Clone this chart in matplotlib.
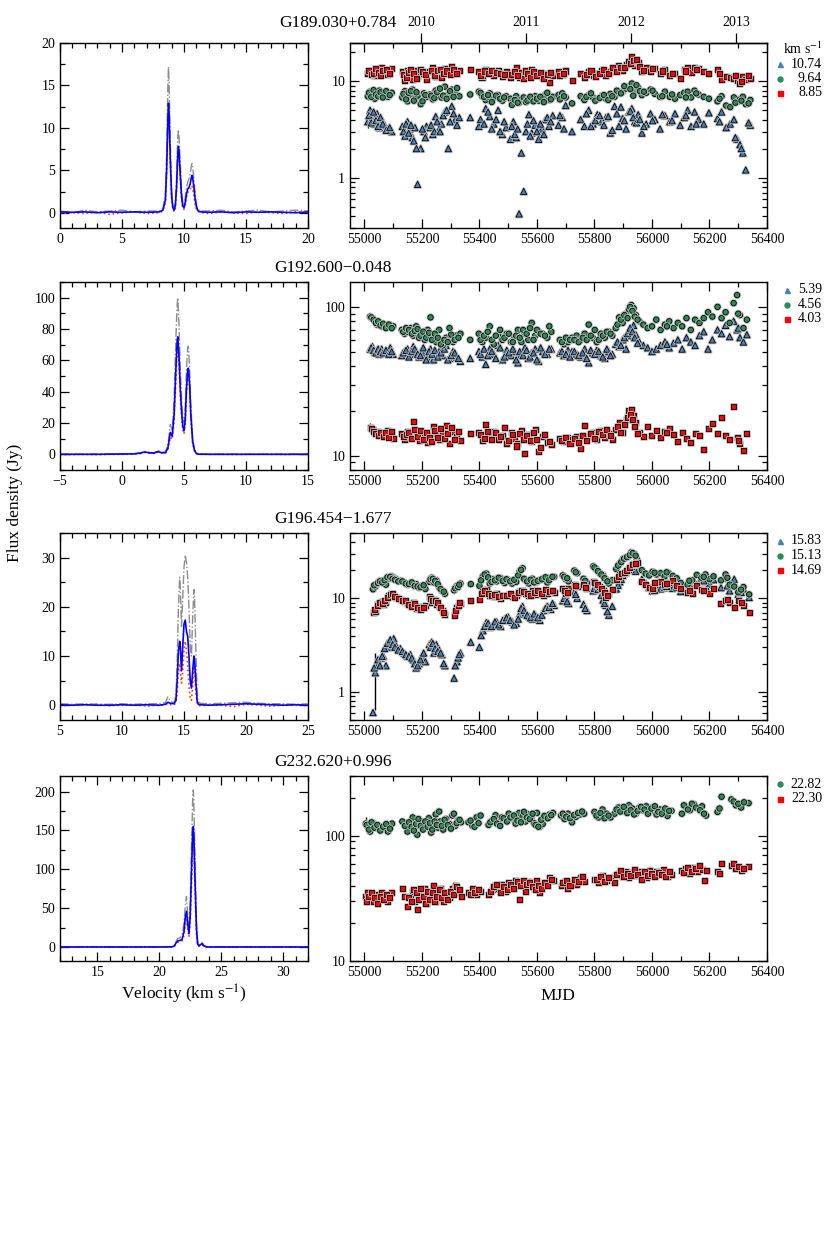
import numpy as np
import matplotlib
matplotlib.use('Agg')
import matplotlib.pyplot as plt
import matplotlib.patheffects as pe
from matplotlib.ticker import MultipleLocator, LogLocator, NullFormatter, FixedLocator, FixedFormatter
from matplotlib.lines import Line2D

plt.rcParams['font.family'] = ['Liberation Serif', 'DejaVu Serif']
plt.rcParams['mathtext.fontset'] = 'stix'
plt.rcParams['axes.linewidth'] = 1.0
for a in ('xtick', 'ytick'):
    plt.rcParams[a + '.direction'] = 'in'
    plt.rcParams[a + '.major.size'] = 6.5
    plt.rcParams[a + '.minor.size'] = 3.5
    plt.rcParams[a + '.major.width'] = 0.9
    plt.rcParams[a + '.minor.width'] = 0.9
    plt.rcParams[a + '.labelsize'] = 10
plt.rcParams['xtick.top'] = True
plt.rcParams['ytick.right'] = True

# ---------------- spectra (velocity km/s, flux Jy) ----------------
g189_vel = [0, 1, 2, 3, 4, 5, 6, 7, 8,
            8.3, 8.5, 8.6, 8.7, 8.75, 8.8, 8.9, 9.0, 9.1, 9.2,
            9.3, 9.4, 9.5, 9.55, 9.6, 9.7, 9.8, 9.9, 10.0, 10.1,
            10.2, 10.3, 10.4, 10.5, 10.6, 10.65, 10.7, 10.8, 10.9, 11.0,
            11.1, 11.2, 11.4,
            12, 13, 14, 15, 16, 17, 18, 19, 20]
g189_mean = [0.1, 0.05, 0.1, 0.0, 0.1, 0.05, 0.1, 0.05, 0.1,
             0.3, 1.5, 5.0, 11.0, 12.9, 11.5, 6.0, 2.0, 0.6, 0.3,
             0.8, 3.0, 7.0, 7.8, 7.2, 4.5, 2.0, 0.8, 0.6, 1.2,
             2.2, 2.8, 3.0, 3.4, 4.2, 4.4, 4.1, 3.0, 1.6, 0.7,
             0.3, 0.15, 0.1,
             0.05, 0.1, 0.0, 0.1, 0.05, 0.1, 0.05, 0.0, 0.1]
g189_max = [0.2, 0.0, 0.3, 0.1, 0.2, 0.3, 0.1, 0.2, 0.2,
            0.5, 2.2, 7.0, 15.0, 17.2, 15.0, 8.0, 2.6, 0.9, 0.6,
            1.2, 4.0, 9.0, 9.8, 9.0, 5.8, 2.6, 1.2, 1.0, 1.8,
            3.0, 3.6, 4.0, 4.6, 5.6, 5.8, 5.4, 4.0, 2.2, 1.0,
            0.5, 0.3, 0.2,
            0.2, 0.3, 0.1, 0.2, 0.3, 0.1, 0.2, 0.3, 0.2]
g189_min = [-0.1, 0.0, -0.1, 0.1, -0.2, 0.0, 0.1, -0.1, 0.0,
            0.2, 1.2, 4.5, 10.5, 12.3, 11.0, 5.5, 1.8, 0.4, 0.1,
            0.5, 2.6, 6.6, 7.4, 6.8, 4.0, 1.6, 0.5, 0.4, 0.9,
            1.8, 2.4, 2.6, 2.8, 3.0, 3.2, 2.8, 2.0, 1.0, 0.4,
            0.2, 0.1, 0.0,
            -0.1, 0.1, 0.0, -0.1, 0.1, 0.0, -0.1, 0.1, 0.0]

g192_vel = [-5, -4, -3, -2, -1, 0, 1,
            1.5, 1.8, 2.2, 2.6, 2.9, 3.2, 3.5,
            3.7, 3.9, 4.05, 4.2, 4.35, 4.45, 4.5, 4.6, 4.7, 4.8,
            4.9, 5.0, 5.1, 5.2, 5.3, 5.35, 5.45, 5.55, 5.7, 5.85,
            6.0, 6.2,
            7, 8, 9, 10, 11, 12, 13, 14, 15]
g192_mean = [0, 0, 0, 0, 0.1, 0.2, 0.3,
             0.8, 1.5, 1.0, 0.8, 1.8, 1.0, 1.0,
             4.0, 14.0, 11.5, 25.0, 55.0, 73.0, 75.0, 62.0, 42.0, 28.0,
             18.0, 15.0, 22.0, 42.0, 54.0, 55.0, 45.0, 25.0, 8.0, 2.5,
             0.5, 0.1,
             0, 0, 0, 0, 0, 0, 0, 0, 0]
g192_max = [0.2, 0.2, 0.2, 0.2, 0.2, 0.3, 0.5,
            1.0, 1.8, 1.2, 1.0, 2.5, 1.3, 1.5,
            6.0, 19.0, 15.0, 35.0, 75.0, 96.0, 100.0, 82.0, 55.0, 35.0,
            24.0, 20.0, 30.0, 55.0, 68.0, 69.0, 56.0, 32.0, 10.0, 3.0,
            0.8, 0.3,
            0.2, 0.2, 0.2, 0.2, 0.2, 0.2, 0.2, 0.2, 0.2]
g192_min = [-0.2, -0.1, 0, -0.2, 0, 0, 0.1,
            0.5, 1.2, 0.8, 0.6, 1.4, 0.8, 0.7,
            3.0, 11.0, 9.5, 21.0, 48.0, 66.0, 68.0, 57.0, 38.0, 25.0,
            16.0, 13.0, 19.0, 39.0, 51.0, 53.0, 43.0, 24.0, 7.0, 2.0,
            0.3, 0.0,
            0, 0.1, -0.1, 0, 0.1, 0, -0.1, 0, 0.1]

g196_vel = [5, 6, 7, 8, 9, 10, 11, 12, 13,
            13.5, 13.7, 13.9, 14.2, 14.35, 14.45, 14.55, 14.65, 14.7, 14.8,
            14.9, 15.0, 15.1, 15.2, 15.3, 15.4, 15.5, 15.6, 15.7, 15.8,
            15.85, 15.95, 16.05, 16.15, 16.3,
            17, 18, 19, 20, 21, 22, 23, 24, 25]
g196_mean = [0.1, 0, 0.1, 0, 0, 0.1, 0, 0.1, 0,
             0.2, 0.6, 0.4, 0.3, 1.0, 5.0, 11.0, 13.0, 12.0, 7.0,
             12.0, 16.5, 17.3, 15.0, 14.0, 10.0, 5.0, 3.5, 7.0, 10.0,
             9.5, 5.0, 1.0, 0.2, 0.1,
             0, 0.1, 0.2, 0.3, 0.2, 0.1, 0, 0.1, 0]
g196_max = [0.3, 0.2, 0.3, 0.2, 0.2, 0.3, 0.2, 0.3, 0.3,
            0.5, 1.7, 0.8, 0.5, 2.0, 9.0, 20.0, 26.0, 24.0, 16.0,
            22.0, 28.0, 30.5, 29.0, 26.0, 20.0, 12.0, 10.0, 18.0, 23.5,
            22.0, 12.0, 3.0, 0.8, 0.4,
            0.3, 0.4, 0.5, 0.6, 0.4, 0.3, 0.3, 0.2, 0.3]
g196_min = [-0.1, 0, 0.1, 0.2, -0.1, 0, 0.1, -0.2, 0,
            0.1, 0.3, 0.1, 0.1, 0.5, 2.5, 7.0, 8.5, 7.0, 4.5,
            7.0, 11.0, 13.0, 11.0, 8.0, 4.0, 1.5, 1.0, 4.0, 8.0,
            7.0, 3.0, 0.4, 0.0, -0.1,
            0.1, 0, -0.3, 0.2, 0, -0.2, 0.1, 0, -0.1]

g232_vel = [12, 13, 14, 15, 16, 17, 18, 19, 20, 21,
            21.2, 21.35, 21.5, 21.7, 21.85, 22.0, 22.1, 22.2, 22.3, 22.4,
            22.5, 22.6, 22.7, 22.75, 22.8, 22.9, 23.0, 23.1, 23.2, 23.3,
            23.45, 23.6, 23.8, 24,
            25, 26, 27, 28, 29, 30, 31, 32]
g232_mean = [0, 0, 0, 0, 0, 0, 0, 0, 0, 0.2,
             1.0, 5.0, 8.0, 8.5, 10.0, 20.0, 38.0, 46.0, 30.0, 17.0,
             40.0, 95.0, 148.0, 155.0, 140.0, 80.0, 25.0, 4.0, 1.5, 2.5,
             4.5, 1.5, 0.2, 0,
             0, 0, 0, 0, 0, 0, 0, 0]
g232_max = [0.3, 0.2, 0.3, 0.2, 0.3, 0.2, 0.3, 0.2, 0.3, 0.5,
            1.5, 7.0, 11.0, 12.0, 16.0, 30.0, 52.0, 65.0, 42.0, 22.0,
            55.0, 125.0, 190.0, 202.0, 180.0, 105.0, 35.0, 6.0, 2.0, 3.5,
            6.0, 2.0, 0.5, 0.3,
            0.2, 0.3, 0.2, 0.3, 0.2, 0.3, 0.2, 0.3]
g232_min = [0, -0.2, 0, 0.1, -0.1, 0, 0.2, -0.1, 0, 0,
            0.5, 3.5, 6.0, 6.5, 8.0, 15.0, 28.0, 35.0, 24.0, 13.0,
            32.0, 78.0, 125.0, 132.0, 120.0, 65.0, 18.0, 2.5, 1.0, 1.5,
            3.0, 1.0, 0.0, 0.1,
            0, 0.1, -0.1, 0, 0.2, 0, 0.1, -0.1]

# ---------------- light curves (MJD, flux Jy) ----------------
g189_labels = ['10.74', '9.64', '8.85']
g189_mjd = [55012, 55020, 55028, 55036, 55044, 55052, 55060, 55070, 55082, 55095,
            55132, 55141, 55150, 55158, 55167, 55176, 55185, 55196, 55207, 55216,
            55228, 55238, 55248, 55258, 55268, 55280, 55292, 55304, 55316, 55330,
            55368, 55398, 55410, 55422, 55436, 55450, 55465, 55480, 55493, 55508,
            55518, 55528, 55538, 55546, 55554, 55562, 55572, 55582, 55594, 55606,
            55618, 55630, 55642, 55655, 55675, 55688, 55700, 55722, 55752, 55765,
            55780, 55795, 55810, 55825, 55840, 55855, 55870, 55885, 55898, 55910,
            55920, 55930, 55940, 55952, 55965, 55980, 55995, 56010, 56028, 56045,
            56062, 56080, 56098, 56112, 56124, 56136, 56148, 56162, 56180, 56198,
            56228, 56242, 56258, 56272, 56285, 56296, 56306, 56316, 56326, 56342,
            55016, 55024, 55032, 55040, 55048, 55056, 55064, 55076, 55088, 55136,
            55145, 55154, 55162, 55172, 55181, 55202, 55212, 55232, 55243, 55253,
            55263, 55274, 55286, 55298, 55310, 55322, 55404, 55416, 55430, 55443,
            55458, 55472, 55486, 55513, 55523, 55533, 55567, 55577, 55588, 55600,
            55612, 55624, 55636, 55648, 55680, 55694, 55772, 55788, 55803, 55818,
            55833, 55848, 55862, 55878, 55892, 55904, 55925, 55935, 55946, 55958,
            55972, 56002, 56036, 56070, 56118, 56154, 56235, 56290, 56311, 56336]
g189_f1 = [3.8, 5.0, 4.2, 3.6, 4.6, 3.3, 4.0, 3.5, 3.2, 3.0,
           3.4, 2.7, 3.8, 3.2, 2.6, 3.3, 0.85, 2.0, 3.0, 3.4,
           3.3, 2.8, 4.3, 3.1, 3.6, 4.8, 2.0, 5.5, 4.0, 4.2,
           4.2, 3.4, 11.0, 5.2, 4.3, 3.6, 5.0, 2.8, 3.3, 2.5,
           3.8, 2.6, 0.42, 1.8, 0.72, 3.0, 4.5, 2.9, 3.5, 2.5,
           3.2, 4.0, 3.4, 4.4, 3.5, 4.2, 5.6, 3.0, 4.0, 3.4,
           5.0, 3.6, 4.5, 3.8, 4.2, 2.9, 5.5, 3.4, 4.1, 3.2,
           4.8, 5.2, 3.8, 4.5, 2.9, 3.6, 4.6, 4.0, 3.2, 4.4,
           3.8, 4.6, 3.5, 4.2, 5.0, 3.4, 4.8, 4.0, 3.6, 4.7,
           4.1, 4.8, 3.3, 3.6, 4.0, 2.5, 2.2, 1.8, 1.2, 3.5,
           4.4, 3.7, 4.8, 3.9, 3.4, 4.2, 3.6, 3.1, 3.3, 3.0,
           3.6, 2.9, 3.5, 2.4, 2.0, 3.2, 2.6, 3.5, 3.0, 3.8,
           3.0, 4.4, 5.0, 3.8, 4.6, 3.5, 4.0, 3.6, 4.8, 3.2,
           4.0, 3.0, 3.8, 3.4, 2.8, 3.2, 3.6, 2.7, 3.9, 3.0,
           3.6, 2.8, 4.2, 3.8, 4.4, 3.2, 4.6, 3.4, 3.9, 4.4,
           3.5, 4.3, 3.1, 4.6, 5.4, 3.9, 4.9, 4.2, 3.7, 4.0,
           3.4, 3.9, 4.5, 3.9, 4.4, 3.6, 3.8, 2.6, 2.0, 3.7]
g189_f2 = [7.0, 7.8, 7.2, 6.6, 7.5, 8.0, 7.1, 7.4, 6.9, 7.6,
           6.8, 7.9, 6.2, 7.3, 8.2, 6.6, 7.1, 5.8, 7.5, 6.9,
           7.3, 6.5, 8.0, 7.0, 6.8, 8.8, 7.4, 8.2, 7.6, 7.0,
           7.3, 7.8, 7.0, 6.4, 7.5, 6.8, 7.2, 6.3, 7.0, 6.6,
           6.2, 7.0, 6.0, 6.5, 6.8, 6.1, 6.7, 6.4, 7.0, 6.3,
           6.6, 7.3, 6.4, 6.9, 7.2, 7.5, 6.8, 5.9, 7.0, 6.4,
           7.2, 6.8, 6.5, 7.0, 6.6, 7.4, 6.9, 7.6, 7.8, 8.4,
           8.8, 9.5, 8.0, 8.6, 7.2, 7.6, 8.2, 7.4, 6.9, 7.8,
           6.9, 6.6, 7.2, 7.6, 7.8, 6.8, 8.0, 7.3, 6.9, 6.6,
           6.2, 7.0, 5.6, 5.4, 6.8, 6.1, 6.5, 6.9, 5.8, 6.4,
           7.6, 6.9, 8.1, 7.3, 7.0, 7.7, 6.8, 7.9, 7.2, 7.4,
           6.5, 7.6, 7.9, 6.3, 7.7, 6.2, 7.2, 7.1, 6.7, 7.7,
           8.4, 7.1, 6.6, 7.9, 6.9, 8.5, 7.6, 6.9, 7.2, 6.1,
           7.1, 6.6, 6.8, 5.7, 6.4, 6.0, 6.3, 6.9, 6.2, 6.6,
           6.9, 6.1, 7.6, 6.5, 6.5, 7.0, 6.9, 7.5, 6.3, 6.7,
           7.2, 6.4, 7.0, 8.0, 7.5, 8.9, 8.3, 7.1, 9.1, 7.9,
           7.8, 8.0, 7.0, 7.3, 6.8, 7.5, 6.6, 6.0, 6.3, 5.9]
g189_f3 = [12.0, 13.0, 12.5, 11.5, 13.2, 12.0, 13.8, 12.6, 11.8, 13.5,
           12.6, 10.2, 13.0, 11.4, 10.4, 12.8, 11.2, 13.3, 12.0, 10.4,
           12.5, 13.8, 11.2, 12.4, 11.0, 13.6, 12.2, 14.2, 12.6, 13.0,
           13.4, 12.6, 11.6, 13.4, 12.0, 11.4, 13.0, 11.2, 12.6, 11.0,
           12.0, 13.8, 11.0, 12.4, 10.6, 12.8, 11.4, 13.2, 11.6, 12.0,
           11.0, 12.2, 9.8, 11.4, 12.6, 11.8, 12.8, 10.2, 12.0, 11.0,
           12.6, 11.4, 12.2, 13.0, 11.6, 12.6, 13.6, 14.6, 13.0, 15.0,
           16.0, 18.0, 14.6, 15.6, 12.8, 14.0, 12.5, 13.6, 12.2, 13.2,
           11.6, 12.2, 10.8, 13.2, 14.0, 12.4, 13.8, 13.6, 12.6, 12.2,
           13.4, 10.4, 11.2, 11.0, 10.6, 10.2, 9.6, 11.2, 10.4, 10.8,
           13.0, 11.8, 12.2, 13.6, 12.4, 11.4, 12.9, 13.3, 12.2, 11.8,
           11.0, 12.4, 13.4, 12.0, 10.8, 12.6, 11.8, 13.0, 11.6, 12.9,
           13.4, 12.0, 12.8, 11.8, 13.2, 12.2, 11.4, 12.8, 12.2, 13.0,
           12.4, 12.0, 11.8, 11.8, 12.6, 11.6, 12.2, 11.0, 12.6, 11.4,
           12.4, 10.8, 11.8, 12.4, 11.6, 12.2, 11.8, 12.8, 11.2, 12.0,
           13.2, 12.2, 13.8, 12.6, 14.0, 13.8, 15.2, 16.6, 17.0, 14.2,
           13.0, 13.6, 12.8, 12.0, 12.8, 13.4, 12.0, 11.6, 10.0, 11.6]
g189_err = [0.5, 0.6, 1.0]

g192_labels = ['5.39', '4.56', '4.03']
g192_mjd = [55020, 55028, 55036, 55044, 55052, 55060, 55070, 55080, 55090, 55100,
            55130, 55140, 55150, 55160, 55170, 55180, 55190, 55200, 55210, 55220,
            55230, 55240, 55250, 55260, 55272, 55284, 55296, 55308, 55320, 55334,
            55368, 55398, 55410, 55422, 55436, 55450, 55465, 55480, 55495, 55510,
            55522, 55534, 55546, 55558, 55570, 55582, 55594, 55606, 55620, 55636,
            55650, 55680, 55694, 55708, 55722, 55738, 55752, 55766, 55780, 55794,
            55808, 55822, 55836, 55850, 55862, 55874, 55886, 55898, 55910, 55920,
            55928, 55936, 55944, 55956, 55970, 55985, 56000, 56015, 56030, 56045,
            56060, 56075, 56090, 56105, 56120, 56135, 56150, 56165, 56180, 56195,
            56210, 56228, 56242, 56256, 56270, 56284, 56296, 56306, 56318, 56330,
            55024, 55032, 55040, 55048, 55056, 55065, 55075, 55085, 55095, 55135,
            55145, 55155, 55165, 55175, 55185, 55195, 55205, 55215, 55225, 55235,
            55245, 55255, 55266, 55278, 55290, 55302, 55314, 55327, 55404, 55416,
            55429, 55443, 55457, 55472, 55487, 55502, 55516, 55528, 55540, 55552,
            55564, 55576, 55588, 55600, 55613, 55628, 55643, 55687, 55701, 55715,
            55730, 55745, 55759, 55773, 55787, 55801, 55815, 55829, 55843, 55856,
            55880, 55892, 55904, 55915, 55924, 55932, 55940, 55950, 56052, 56300]
g192_f1 = [52, 54, 50, 51, 48, 52, 50, 50, 53, 48,
           47, 50, 52, 48, 54, 50, 46, 51, 49, 45,
           52, 44, 48, 50, 47, 55, 45, 50, 46, 43,
           45, 50, 46, 41, 52, 48, 55, 44, 51, 47,
           50, 42, 48, 53, 45, 49, 52, 43, 50, 48,
           52, 49, 47, 51, 50, 48, 46, 52, 42, 49,
           51, 47, 45, 50, 48, 56, 54, 60, 52, 64,
           70, 75, 65, 58, 55, 53, 50, 52, 55, 58,
           53, 57, 60, 52, 62, 58, 55, 64, 68, 52,
           60, 70, 66, 75, 63, 80, 70, 62, 58, 65,
           53, 51, 49, 52, 50, 49, 51, 48, 50, 49,
           51, 46, 50, 52, 48, 47, 53, 44, 50, 48,
           51, 46, 49, 52, 44, 47, 49, 45, 48, 52,
           47, 50, 45, 53, 46, 49, 52, 44, 50, 47,
           51, 46, 49, 44, 53, 48, 52, 50, 48, 46,
           50, 47, 49, 45, 51, 48, 50, 46, 52, 47,
           58, 55, 62, 66, 72, 68, 62, 57, 56, 72]
g192_f2 = [86, 84, 80, 76, 78, 74, 76, 73, 75, 74,
           70, 66, 68, 72, 64, 74, 62, 66, 60, 70,
           85, 64, 58, 70, 55, 62, 72, 58, 64, 66,
           60, 66, 58, 62, 74, 56, 65, 60, 66, 58,
           63, 70, 58, 66, 60, 78, 64, 68, 66, 62,
           68, 60, 56, 58, 62, 64, 60, 66, 76, 62,
           58, 66, 62, 68, 64, 72, 85, 78, 90, 96,
           103, 98, 88, 80, 76, 72, 74, 82, 70, 76,
           80, 72, 78, 74, 84, 70, 82, 78, 84, 92,
           86, 100, 84, 92, 78, 106, 120, 88, 72, 82,
           85, 82, 78, 80, 75, 77, 72, 76, 72, 68,
           72, 70, 66, 69, 71, 64, 68, 62, 67, 60,
           66, 62, 56, 60, 58, 65, 60, 62, 60, 64,
           68, 60, 64, 70, 62, 66, 58, 64, 62, 70,
           66, 72, 60, 70, 66, 64, 74, 58, 62, 60,
           60, 58, 62, 60, 64, 70, 60, 64, 68, 66,
           76, 82, 88, 84, 100, 94, 86, 82, 74, 90]
g192_f3 = [15.5, 15.0, 14.2, 14.6, 13.8, 14.4, 13.5, 14.8, 13.8, 13.0,
           14.0, 12.8, 14.6, 13.2, 17.0, 14.2, 12.6, 13.6, 14.4, 12.2,
           13.6, 15.6, 14.0, 12.8, 14.4, 16.0, 12.0, 14.6, 13.4, 12.6,
           14.0, 14.4, 12.6, 16.2, 13.2, 14.6, 12.8, 13.6, 12.0, 14.4,
           13.0, 12.0, 14.8, 10.4, 13.8, 12.4, 15.0, 10.6, 13.4, 12.2,
           11.8, 13.0, 12.4, 13.2, 12.8, 13.4, 11.2, 16.0, 13.4, 14.4,
           12.8, 14.8, 13.2, 14.0, 12.8, 15.0, 16.8, 14.2, 17.5, 20.0,
           20.5, 18.6, 16.6, 14.2, 13.4, 15.8, 13.6, 14.8, 13.2, 14.6,
           15.2, 13.8, 12.4, 14.4, 13.0, 12.2, 14.0, 13.6, 11.0, 15.2,
           16.4, 14.0, 18.0, 13.6, 12.8, 21.5, 13.2, 12.0, 10.8, 14.0,
           15.2, 14.6, 14.0, 13.6, 14.2, 13.4, 14.4, 13.2, 14.6, 13.4,
           13.8, 14.4, 13.0, 15.0, 13.4, 14.8, 12.8, 14.2, 13.2, 12.4,
           14.8, 13.2, 15.2, 13.0, 14.0, 15.4, 12.8, 14.6, 13.8, 13.0,
           14.6, 12.8, 14.2, 13.4, 15.4, 12.6, 13.8, 11.6, 14.0, 12.8,
           13.6, 12.6, 14.2, 12.8, 11.4, 13.8, 12.4, 12.6, 13.2, 12.0,
           13.0, 12.2, 13.6, 12.6, 14.0, 13.0, 14.6, 13.8, 15.0, 13.6,
           15.6, 14.4, 16.2, 18.0, 19.0, 17.4, 15.6, 14.0, 14.2, 12.6]
g192_err = [3.0, 4.0, 1.0]

g196_labels = ['15.83', '15.13', '14.69']
g196_mjd = [55030, 55038, 55044, 55050, 55058, 55066, 55075, 55085, 55094, 55102,
            55110, 55125, 55138, 55150, 55160, 55170, 55180, 55190, 55200, 55212,
            55226, 55234, 55242, 55250, 55260, 55270, 55280, 55312, 55322, 55334,
            55370, 55400, 55412, 55424, 55436, 55448, 55460, 55474, 55488, 55500,
            55514, 55528, 55540, 55550, 55560, 55572, 55584, 55596, 55610, 55624,
            55636, 55648, 55660, 55690, 55700, 55710, 55730, 55740, 55762, 55774,
            55796, 55806, 55818, 55830, 55840, 55850, 55862, 55876, 55888, 55898,
            55908, 55918, 55928, 55938, 55948, 55965, 55978, 55990, 56002, 56016,
            56030, 56044, 56058, 56072, 56086, 56100, 56124, 56140, 56156, 56172,
            56186, 56200, 56214, 56240, 56256, 56270, 56286, 56300, 56318, 56338,
            55034, 55047, 55054, 55062, 55070, 55080, 55090, 55098, 55106, 55118,
            55132, 55144, 55155, 55165, 55175, 55185, 55195, 55206, 55230, 55238,
            55246, 55255, 55265, 55276, 55316, 55326, 55330, 55406, 55418, 55430,
            55442, 55454, 55467, 55481, 55494, 55507, 55521, 55535, 55545, 55555,
            55566, 55578, 55590, 55603, 55617, 55630, 55642, 55654, 55695, 55705,
            55735, 55768, 55800, 55812, 55824, 55835, 55845, 55882, 55893, 55903,
            55913, 55923, 55933, 55943, 56009, 56051, 56130, 56180, 56262, 56310]
g196_f1 = [0.6, 1.6, 1.9, 2.0, 2.3, 2.4, 1.9, 3.0, 3.5, 3.7,
           3.1, 2.9, 2.6, 2.4, 2.5, 2.2, 1.8, 2.0, 2.4, 2.1,
           3.2, 3.4, 2.6, 3.2, 2.8, 2.5, 1.9, 1.4, 2.1, 2.6,
           3.4, 3.0, 4.5, 5.5, 4.9, 5.2, 5.6, 5.0, 6.0, 6.3,
           5.6, 5.4, 6.8, 8.2, 7.0, 6.4, 6.0, 6.5, 5.8, 7.4,
           8.2, 7.6, 8.4, 9.4, 10.8, 8.8, 11.8, 10.0, 8.6, 7.4,
           12.0, 13.6, 12.4, 9.6, 8.4, 6.6, 8.2, 12.6, 15.0, 17.5,
           19.0, 21.0, 23.0, 20.0, 22.0, 16.0, 14.5, 13.0, 12.0, 14.0,
           12.6, 13.0, 14.5, 12.8, 13.2, 11.8, 12.5, 11.6, 14.0, 16.5,
           15.2, 14.2, 15.8, 13.0, 16.5, 12.0, 16.0, 11.0, 12.6, 10.2,
           1.8, 2.2, 1.9, 2.4, 2.9, 3.3, 3.6, 3.2, 3.0, 2.8,
           2.7, 2.5, 2.4, 2.3, 2.0, 1.9, 2.2, 2.6, 3.0, 3.3,
           2.9, 2.7, 2.6, 2.0, 1.9, 2.3, 2.5, 4.0, 5.0, 5.4,
           5.0, 5.6, 5.2, 5.8, 6.2, 5.8, 5.2, 6.0, 7.8, 7.4,
           6.6, 6.2, 6.8, 6.2, 6.6, 7.8, 8.0, 8.8, 10.0, 9.2,
           11.0, 7.8, 12.8, 12.4, 10.8, 8.8, 7.2, 13.8, 16.0, 18.5,
           20.0, 22.0, 21.0, 19.5, 12.2, 13.4, 14.2, 15.4, 13.6, 11.6]
g196_f2 = [12.5, 13.4, 14.2, 15.0, 15.4, 14.6, 14.0, 16.4, 17.2, 16.6,
           16.0, 15.4, 14.8, 14.0, 14.6, 13.8, 14.2, 13.0, 13.6, 12.6,
           15.0, 16.6, 14.8, 15.6, 13.2, 12.0, 11.2, 12.2, 13.6, 14.4,
           14.2, 13.6, 17.2, 18.4, 14.4, 16.0, 15.2, 16.4, 14.6, 15.8,
           14.4, 15.0, 19.4, 21.0, 15.6, 14.4, 16.2, 14.8, 15.6, 16.4,
           14.8, 16.6, 17.0, 17.6, 16.0, 15.2, 19.8, 18.6, 16.2, 14.6,
           22.0, 20.6, 18.6, 17.6, 16.0, 14.4, 15.6, 20.6, 23.4, 26.0,
           27.0, 28.0, 31.0, 30.0, 26.0, 20.0, 18.4, 17.6, 19.2, 18.0,
           18.6, 17.2, 18.6, 17.4, 16.4, 14.6, 14.0, 15.6, 17.8, 16.6,
           18.0, 16.0, 17.2, 15.6, 18.0, 14.0, 13.4, 11.6, 13.2, 11.0,
           13.8, 14.6, 15.2, 14.8, 15.6, 16.8, 17.0, 16.2, 15.8, 15.2,
           15.2, 14.4, 14.2, 14.8, 13.6, 13.4, 13.2, 13.8, 16.0, 16.2,
           15.4, 14.2, 12.6, 11.8, 12.8, 13.2, 14.0, 15.6, 18.0, 16.8,
           15.0, 15.6, 16.6, 15.4, 16.0, 15.2, 15.8, 17.6, 20.2, 16.2,
           15.2, 15.8, 14.8, 15.4, 16.0, 16.8, 15.6, 17.0, 17.0, 16.4,
           19.0, 15.4, 21.4, 19.6, 18.0, 16.4, 15.2, 22.4, 24.4, 26.6,
           27.6, 29.0, 30.5, 28.6, 18.8, 19.0, 15.4, 17.0, 16.6, 12.4]
g196_f3 = [7.0, 7.2, 8.6, 8.8, 9.2, 8.6, 9.0, 10.6, 11.2, 10.8,
           10.2, 9.8, 9.2, 8.8, 8.4, 9.0, 7.8, 8.2, 7.8, 8.4,
           10.4, 9.0, 9.8, 8.6, 8.2, 7.4, 6.8, 6.6, 8.0, 8.8,
           9.4, 9.8, 11.8, 12.4, 10.8, 10.4, 11.2, 10.0, 10.8, 11.0,
           10.4, 10.6, 11.8, 12.0, 11.2, 10.6, 12.0, 11.0, 11.6, 10.8,
           11.4, 12.0, 11.6, 12.6, 11.2, 12.8, 14.0, 13.4, 14.2, 12.6,
           15.2, 14.2, 13.4, 12.2, 10.2, 11.4, 12.4, 16.0, 18.0, 17.6,
           19.0, 20.4, 22.0, 23.0, 24.0, 15.2, 14.0, 13.2, 12.6, 14.6,
           15.0, 14.2, 14.8, 15.4, 13.6, 12.6, 11.6, 11.2, 13.6, 12.4,
           12.0, 11.4, 12.6, 8.8, 9.6, 9.0, 8.0, 9.4, 8.4, 7.0,
           7.6, 8.4, 9.0, 8.8, 9.4, 10.2, 11.0, 11.4, 10.4, 10.0,
           9.6, 9.4, 8.6, 8.2, 8.8, 8.0, 7.6, 8.0, 10.0, 9.4,
           9.4, 9.0, 8.0, 7.0, 7.4, 8.4, 9.0, 11.4, 12.0, 11.2,
           10.6, 11.0, 10.4, 10.8, 10.6, 11.2, 10.2, 11.6, 12.2, 11.8,
           11.4, 10.8, 11.6, 12.2, 11.2, 12.4, 11.8, 12.0, 12.2, 11.6,
           13.6, 13.0, 14.6, 14.0, 12.8, 11.6, 10.6, 17.0, 18.6, 18.8,
           20.0, 21.4, 22.8, 23.6, 14.6, 14.4, 12.0, 12.2, 9.8, 9.0]
g196_err = [1.0, 1.0, 0.7]

g232_labels = ['22.82', '22.30']
g232_mjd = [55005, 55012, 55020, 55030, 55040, 55050, 55060, 55070, 55082, 55096,
            55132, 55150, 55160, 55168, 55176, 55184, 55192, 55200, 55208, 55216,
            55224, 55232, 55240, 55248, 55256, 55264, 55274, 55284, 55296, 55306,
            55316, 55326, 55336, 55362, 55376, 55390, 55404, 55432, 55444, 55456,
            55466, 55478, 55490, 55502, 55514, 55526, 55538, 55550, 55560, 55570,
            55580, 55590, 55600, 55610, 55620, 55632, 55644, 55656, 55684, 55696,
            55708, 55722, 55736, 55750, 55764, 55800, 55814, 55828, 55842, 55856,
            55870, 55884, 55896, 55908, 55920, 55932, 55944, 55956, 55968, 55980,
            55992, 56004, 56016, 56028, 56040, 56054, 56068, 56104, 56118, 56132,
            56146, 56160, 56174, 56188, 56228, 56242, 56276, 56292, 56310, 56336,
            55008, 55016, 55025, 55035, 55045, 55055, 55065, 55076, 55089, 55141,
            55155, 55164, 55172, 55180, 55188, 55196, 55204, 55212, 55220, 55228,
            55236, 55244, 55252, 55260, 55269, 55279, 55290, 55301, 55311, 55321,
            55331, 55369, 55383, 55397, 55438, 55450, 55461, 55472, 55484, 55496,
            55508, 55520, 55532, 55544, 55555, 55565, 55575, 55585, 55595, 55605,
            55615, 55626, 55638, 55650, 55690, 55702, 55715, 55729, 55743, 55757,
            55807, 55821, 55835, 55849, 55877, 55890, 55902, 55914, 55926, 55938,
            55950, 55962, 55974, 55986, 55998, 56010, 56022, 56034, 56046, 56060,
            56111, 56125, 56139, 56153, 56167, 56181, 56235, 56284, 56300, 56320]
g232_f1 = [125, 118, 108, 126, 120, 115, 112, 118, 108, 125,
           130, 108, 124, 140, 118, 102, 132, 115, 128, 120,
           138, 106, 126, 148, 116, 130, 112, 136, 124, 145,
           120, 132, 128, 128, 120, 140, 145, 122, 132, 146,
           128, 140, 134, 150, 138, 125, 152, 142, 130, 148,
           138, 126, 152, 118, 124, 140, 148, 152, 145, 136,
           150, 128, 142, 148, 150, 155, 140, 162, 150, 140,
           150, 168, 158, 162, 175, 165, 150, 168, 160, 172,
           155, 168, 148, 162, 156, 144, 158, 150, 170, 160,
           178, 166, 172, 145, 155, 205, 195, 175, 168, 182,
           122, 112, 128, 116, 122, 110, 118, 124, 114, 120,
           128, 118, 110, 124, 136, 120, 112, 130, 118, 126,
           112, 130, 122, 156, 120, 134, 122, 114, 150, 126,
           134, 132, 118, 126, 128, 136, 125, 120, 138, 130,
           140, 145, 132, 128, 155, 140, 136, 150, 122, 118,
           134, 144, 138, 146, 150, 142, 138, 146, 152, 156,
           145, 152, 138, 145, 162, 156, 170, 152, 160, 148,
           158, 170, 162, 150, 165, 172, 155, 150, 165, 158,
           175, 162, 180, 168, 160, 150, 165, 188, 180, 185]
g232_f2 = [33, 35, 31, 30, 34, 32, 35, 31, 30, 35,
           38, 27, 33, 36, 30, 26, 35, 31, 38, 29,
           36, 33, 40, 30, 34, 38, 30, 35, 32, 38,
           40, 35, 33, 35, 38, 34, 36, 34, 37, 40,
           38, 41, 36, 42, 39, 44, 31, 40, 36, 43,
           41, 38, 44, 35, 40, 42, 46, 44, 40, 43,
           38, 42, 41, 46, 43, 45, 42, 48, 44, 46,
           42, 50, 47, 52, 46, 51, 48, 52, 50, 46,
           53, 48, 52, 50, 54, 47, 49, 53, 55, 50,
           56, 52, 54, 53, 52, 60, 58, 55, 53, 57,
           30, 33, 35, 32, 29, 33, 31, 34, 32, 33,
           32, 30, 37, 35, 31, 38, 33, 29, 36, 31,
           35, 30, 33, 37, 32, 35, 31, 36, 34, 39,
           37, 34, 35, 37, 36, 39, 41, 35, 39, 37,
           41, 38, 43, 40, 44, 41, 42, 39, 37, 40,
           38, 42, 40, 45, 42, 44, 40, 45, 43, 47,
           45, 47, 43, 46, 49, 53, 47, 50, 48, 54,
           49, 45, 52, 48, 50, 47, 51, 49, 47, 52,
           51, 56, 52, 55, 58, 44, 50, 60, 57, 55]
g232_err = [15.0, 4.0]

year_labels = ['2010', '2011', '2012', '2013']
year_mjd = [55197, 55562, 55927, 56293]

# ---------------- layout (pixels in 830x1246 canvas) ----------------
W, H = 830, 1246
BLUE, GREEN, RED = '#4a82b8', '#2e8b57', '#ff0000'
marker_style = {'t': ('^', BLUE, 20), 'c': ('o', GREEN, 15), 's': ('s', RED, 13)}

sources = [
    dict(name='G189.030+0.784', vel=g189_vel, mean=g189_mean, vmax=g189_max, vmin=g189_min,
         vlim=(0, 20), flim=(-1.8, 20), fmaj=5, fmin=2.5,
         mjd=g189_mjd, series=[g189_f1, g189_f2, g189_f3], kinds='tcs', labels=g189_labels,
         err=g189_err, err_idx=0, ylim=(0.3, 25)),
    dict(name='G192.600\u22120.048', vel=g192_vel, mean=g192_mean, vmax=g192_max, vmin=g192_min,
         vlim=(-5, 15), flim=(-10, 110), fmaj=20, fmin=10,
         mjd=g192_mjd, series=[g192_f1, g192_f2, g192_f3], kinds='tcs', labels=g192_labels,
         err=g192_err, err_idx=0, ylim=(8, 147)),
    dict(name='G196.454\u22121.677', vel=g196_vel, mean=g196_mean, vmax=g196_max, vmin=g196_min,
         vlim=(5, 25), flim=(-3, 35), fmaj=10, fmin=5,
         mjd=g196_mjd, series=[g196_f1, g196_f2, g196_f3], kinds='tcs', labels=g196_labels,
         err=g196_err, err_idx=1, ylim=(0.5, 50)),
    dict(name='G232.620+0.996', vel=g232_vel, mean=g232_mean, vmax=g232_max, vmin=g232_min,
         vlim=(12, 32), flim=(-18, 220), fmaj=50, fmin=25,
         mjd=g232_mjd, series=[g232_f1, g232_f2], kinds='cs', labels=g232_labels,
         err=g232_err, err_idx=0, ylim=(10, 300)),
]

rows = [(43, 228), (282, 470), (533, 720), (776, 961)]
title_pos = [(338, 23), (333, 268), (333, 519), (333, 762)]
LX, RX = (60, 308), (350, 767)

fig = plt.figure(figsize=(W / 100, H / 100), dpi=100)


def px_axes(x0, x1, y0, y1):
    return fig.add_axes([x0 / W, 1 - y1 / H, (x1 - x0) / W, (y1 - y0) / H])


def fx(x):
    return x / W


def fy(y):
    return 1 - y / H


halo = [pe.withStroke(linewidth=2.0, foreground='#bdbdbd')]

for i, src in enumerate(sources):
    y0, y1 = rows[i]

    # spectrum panel
    ax = px_axes(LX[0], LX[1], y0, y1)
    ax.plot(src['vel'], src['vmax'], color='0.55', ls='-.', lw=1.0)
    ax.plot(src['vel'], src['vmin'], color='#ff4500', ls=':', lw=1.2)
    ax.plot(src['vel'], src['mean'], color='#0000ff', ls='-', lw=1.2)
    ax.set_xlim(*src['vlim'])
    ax.set_ylim(*src['flim'])
    ax.xaxis.set_major_locator(MultipleLocator(5))
    ax.xaxis.set_minor_locator(MultipleLocator(1))
    ax.yaxis.set_major_locator(MultipleLocator(src['fmaj']))
    ax.yaxis.set_minor_locator(MultipleLocator(src['fmin']))
    ax.tick_params(which='both', top=True, right=True)
    ax.xaxis.set_major_formatter(plt.FuncFormatter(lambda v, p: f'{v:.0f}'.replace('-', '\u2212')))
    ax.yaxis.set_major_formatter(plt.FuncFormatter(lambda v, p: f'{v:.0f}'.replace('-', '\u2212')))

    # light curve panel
    bx = px_axes(RX[0], RX[1], y0, y1)
    for k, (vals, kind) in enumerate(zip(src['series'], src['kinds'])):
        m, c, s = marker_style[kind]
        sc = bx.scatter(src['mjd'], vals, marker=m, s=s, c=c, edgecolors='k',
                        linewidths=0.6, zorder=3 + k)
        sc.set_path_effects(halo)
        j = src['err_idx']
        bx.errorbar([src['mjd'][j]], [vals[j]], yerr=[[min(src['err'][k], vals[j] * 0.6)], [src['err'][k]]],
                    fmt='none', ecolor='k', elinewidth=1.0, capsize=0, zorder=2)
    bx.set_yscale('log')
    bx.set_xlim(54950, 56400)
    bx.set_ylim(*src['ylim'])
    bx.xaxis.set_major_locator(MultipleLocator(200))
    bx.xaxis.set_minor_locator(MultipleLocator(100))
    bx.yaxis.set_major_locator(LogLocator(base=10))
    bx.yaxis.set_minor_locator(LogLocator(base=10, subs=np.arange(2, 10)))
    bx.yaxis.set_minor_formatter(NullFormatter())
    bx.yaxis.set_major_formatter(plt.FuncFormatter(lambda v, p: f'{v:g}'))
    bx.tick_params(which='both', top=True, right=True)

    if i == 0:
        sec = bx.secondary_xaxis('top')
        sec.xaxis.set_major_locator(FixedLocator(year_mjd))
        sec.xaxis.set_major_formatter(FixedFormatter(year_labels))
        sec.xaxis.set_minor_locator(FixedLocator([]))
        sec.tick_params(direction='out', length=7, width=0.9, labelsize=10, pad=3)

    # title
    fig.text(fx(title_pos[i][0]), fy(title_pos[i][1]), src['name'], ha='center', va='center', fontsize=12.5)

    # legend (drawn manually, labels right aligned)
    text_right = 822
    ly = y0 + 8
    if i == 0:
        fig.text(fx(text_right), fy(y0 + 6), 'km s$^{-1}$', ha='right', va='center', fontsize=10)
        ly = y0 + 21
    nchar = max(len(l) for l in src['labels'])
    mx = text_right - 7 * nchar - 7
    for k, (lab, kind) in enumerate(zip(src['labels'], src['kinds'])):
        m, c, s = marker_style[kind]
        yy = ly + 14.5 * k
        fig.add_artist(Line2D([fx(mx)], [fy(yy)], marker=m, color=c, ms=3.6, ls='none',
                              mec=c, transform=fig.transFigure))
        fig.text(fx(text_right), fy(yy), lab, ha='right', va='center', fontsize=10)

fig.text(fx(15), fy(503), 'Flux density (Jy)', rotation=90, ha='center', va='center', fontsize=12.5)
fig.text(fx(184), fy(994), 'Velocity (km s$^{-1}$)', ha='center', va='center', fontsize=12.5)
fig.text(fx(558), fy(996), 'MJD', ha='center', va='center', fontsize=12.5)

fig.savefig('out.png', dpi=100)
